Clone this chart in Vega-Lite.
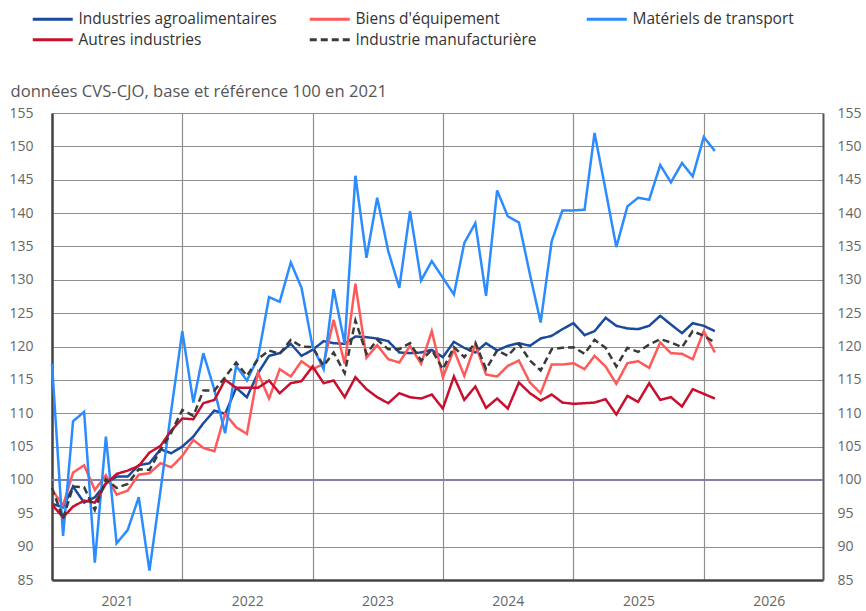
{
  "$schema": "https://vega.github.io/schema/vega-lite/v6.json",
  "width": 771,
  "height": 467,
  "autosize": {"type": "none"},
  "padding": {"left": 52, "top": 113, "right": 43, "bottom": 31},
  "background": "white",
  "config": {"view": {"stroke": null}, "font": "Open Sans"},
  "data": {
    "format": {"parse": {"d": "utc:'%Y-%m'"}},
    "values": [
      {"d":"2021-01","s":"A","v":96.4},{"d":"2021-02","s":"A","v":95.9},{"d":"2021-03","s":"A","v":99.0},{"d":"2021-04","s":"A","v":96.6},{"d":"2021-05","s":"A","v":97.4},{"d":"2021-06","s":"A","v":99.5},{"d":"2021-07","s":"A","v":100.5},{"d":"2021-08","s":"A","v":100.5},{"d":"2021-09","s":"A","v":102.2},{"d":"2021-10","s":"A","v":102.5},{"d":"2021-11","s":"A","v":104.6},{"d":"2021-12","s":"A","v":104.0},
      {"d":"2022-01","s":"A","v":105.0},{"d":"2022-02","s":"A","v":106.5},{"d":"2022-03","s":"A","v":108.5},{"d":"2022-04","s":"A","v":110.4},{"d":"2022-05","s":"A","v":109.9},{"d":"2022-06","s":"A","v":113.8},{"d":"2022-07","s":"A","v":112.4},{"d":"2022-08","s":"A","v":116.0},{"d":"2022-09","s":"A","v":118.6},{"d":"2022-10","s":"A","v":119.0},{"d":"2022-11","s":"A","v":120.4},{"d":"2022-12","s":"A","v":118.6},
      {"d":"2023-01","s":"A","v":119.5},{"d":"2023-02","s":"A","v":120.8},{"d":"2023-03","s":"A","v":120.5},{"d":"2023-04","s":"A","v":120.4},{"d":"2023-05","s":"A","v":121.5},{"d":"2023-06","s":"A","v":121.4},{"d":"2023-07","s":"A","v":121.2},{"d":"2023-08","s":"A","v":120.8},{"d":"2023-09","s":"A","v":119.1},{"d":"2023-10","s":"A","v":119.0},{"d":"2023-11","s":"A","v":119.1},{"d":"2023-12","s":"A","v":119.5},
      {"d":"2024-01","s":"A","v":118.4},{"d":"2024-02","s":"A","v":120.7},{"d":"2024-03","s":"A","v":119.8},{"d":"2024-04","s":"A","v":119.1},{"d":"2024-05","s":"A","v":120.5},{"d":"2024-06","s":"A","v":119.4},{"d":"2024-07","s":"A","v":120.1},{"d":"2024-08","s":"A","v":120.5},{"d":"2024-09","s":"A","v":120.1},{"d":"2024-10","s":"A","v":121.2},{"d":"2024-11","s":"A","v":121.6},{"d":"2024-12","s":"A","v":122.6},
      {"d":"2025-01","s":"A","v":123.5},{"d":"2025-02","s":"A","v":121.7},{"d":"2025-03","s":"A","v":122.3},{"d":"2025-04","s":"A","v":124.3},{"d":"2025-05","s":"A","v":123.1},{"d":"2025-06","s":"A","v":122.7},{"d":"2025-07","s":"A","v":122.6},{"d":"2025-08","s":"A","v":123.1},{"d":"2025-09","s":"A","v":124.6},{"d":"2025-10","s":"A","v":123.3},{"d":"2025-11","s":"A","v":122.0},{"d":"2025-12","s":"A","v":123.5},
      {"d":"2026-01","s":"A","v":123.1},{"d":"2026-02","s":"A","v":122.3},

      {"d":"2021-01","s":"B","v":98.5},{"d":"2021-02","s":"B","v":96.2},{"d":"2021-03","s":"B","v":101.1},{"d":"2021-04","s":"B","v":102.2},{"d":"2021-05","s":"B","v":98.5},{"d":"2021-06","s":"B","v":100.7},{"d":"2021-07","s":"B","v":97.8},{"d":"2021-08","s":"B","v":98.4},{"d":"2021-09","s":"B","v":100.8},{"d":"2021-10","s":"B","v":101.0},{"d":"2021-11","s":"B","v":102.5},{"d":"2021-12","s":"B","v":101.9},
      {"d":"2022-01","s":"B","v":103.6},{"d":"2022-02","s":"B","v":106.0},{"d":"2022-03","s":"B","v":104.8},{"d":"2022-04","s":"B","v":104.3},{"d":"2022-05","s":"B","v":109.9},{"d":"2022-06","s":"B","v":107.9},{"d":"2022-07","s":"B","v":106.9},{"d":"2022-08","s":"B","v":116.1},{"d":"2022-09","s":"B","v":112.2},{"d":"2022-10","s":"B","v":116.6},{"d":"2022-11","s":"B","v":115.5},{"d":"2022-12","s":"B","v":117.8},
      {"d":"2023-01","s":"B","v":116.6},{"d":"2023-02","s":"B","v":117.4},{"d":"2023-03","s":"B","v":124.0},{"d":"2023-04","s":"B","v":117.4},{"d":"2023-05","s":"B","v":129.4},{"d":"2023-06","s":"B","v":118.3},{"d":"2023-07","s":"B","v":120.2},{"d":"2023-08","s":"B","v":118.1},{"d":"2023-09","s":"B","v":117.6},{"d":"2023-10","s":"B","v":120.1},{"d":"2023-11","s":"B","v":117.4},{"d":"2023-12","s":"B","v":122.3},
      {"d":"2024-01","s":"B","v":115.4},{"d":"2024-02","s":"B","v":119.5},{"d":"2024-03","s":"B","v":115.6},{"d":"2024-04","s":"B","v":120.3},{"d":"2024-05","s":"B","v":115.8},{"d":"2024-06","s":"B","v":115.5},{"d":"2024-07","s":"B","v":117.1},{"d":"2024-08","s":"B","v":117.9},{"d":"2024-09","s":"B","v":114.6},{"d":"2024-10","s":"B","v":113.0},{"d":"2024-11","s":"B","v":117.3},{"d":"2024-12","s":"B","v":117.3},
      {"d":"2025-01","s":"B","v":117.5},{"d":"2025-02","s":"B","v":116.6},{"d":"2025-03","s":"B","v":118.6},{"d":"2025-04","s":"B","v":117.0},{"d":"2025-05","s":"B","v":114.4},{"d":"2025-06","s":"B","v":117.5},{"d":"2025-07","s":"B","v":117.8},{"d":"2025-08","s":"B","v":116.8},{"d":"2025-09","s":"B","v":120.6},{"d":"2025-10","s":"B","v":119.0},{"d":"2025-11","s":"B","v":118.9},{"d":"2025-12","s":"B","v":118.1},
      {"d":"2026-01","s":"B","v":122.3},{"d":"2026-02","s":"B","v":119.1},

      {"d":"2021-01","s":"T","v":117.4},{"d":"2021-02","s":"T","v":91.6},{"d":"2021-03","s":"T","v":108.8},{"d":"2021-04","s":"T","v":110.2},{"d":"2021-05","s":"T","v":87.6},{"d":"2021-06","s":"T","v":106.5},{"d":"2021-07","s":"T","v":90.5},{"d":"2021-08","s":"T","v":92.5},{"d":"2021-09","s":"T","v":97.4},{"d":"2021-10","s":"T","v":86.4},{"d":"2021-11","s":"T","v":98.4},{"d":"2021-12","s":"T","v":110.4},
      {"d":"2022-01","s":"T","v":122.3},{"d":"2022-02","s":"T","v":111.6},{"d":"2022-03","s":"T","v":119.0},{"d":"2022-04","s":"T","v":113.5},{"d":"2022-05","s":"T","v":107.0},{"d":"2022-06","s":"T","v":117.1},{"d":"2022-07","s":"T","v":114.9},{"d":"2022-08","s":"T","v":118.3},{"d":"2022-09","s":"T","v":127.4},{"d":"2022-10","s":"T","v":126.7},{"d":"2022-11","s":"T","v":132.6},{"d":"2022-12","s":"T","v":128.8},
      {"d":"2023-01","s":"T","v":120.0},{"d":"2023-02","s":"T","v":116.6},{"d":"2023-03","s":"T","v":128.6},{"d":"2023-04","s":"T","v":120.4},{"d":"2023-05","s":"T","v":145.6},{"d":"2023-06","s":"T","v":133.3},{"d":"2023-07","s":"T","v":142.3},{"d":"2023-08","s":"T","v":134.3},{"d":"2023-09","s":"T","v":128.8},{"d":"2023-10","s":"T","v":140.3},{"d":"2023-11","s":"T","v":129.9},{"d":"2023-12","s":"T","v":132.8},
      {"d":"2024-01","s":"T","v":130.3},{"d":"2024-02","s":"T","v":127.8},{"d":"2024-03","s":"T","v":135.5},{"d":"2024-04","s":"T","v":138.5},{"d":"2024-05","s":"T","v":127.6},{"d":"2024-06","s":"T","v":143.4},{"d":"2024-07","s":"T","v":139.5},{"d":"2024-08","s":"T","v":138.6},{"d":"2024-09","s":"T","v":130.8},{"d":"2024-10","s":"T","v":123.6},{"d":"2024-11","s":"T","v":135.8},{"d":"2024-12","s":"T","v":140.4},
      {"d":"2025-01","s":"T","v":140.4},{"d":"2025-02","s":"T","v":140.5},{"d":"2025-03","s":"T","v":152.0},{"d":"2025-04","s":"T","v":143.4},{"d":"2025-05","s":"T","v":134.9},{"d":"2025-06","s":"T","v":141.0},{"d":"2025-07","s":"T","v":142.3},{"d":"2025-08","s":"T","v":142.0},{"d":"2025-09","s":"T","v":147.2},{"d":"2025-10","s":"T","v":144.6},{"d":"2025-11","s":"T","v":147.5},{"d":"2025-12","s":"T","v":145.5},
      {"d":"2026-01","s":"T","v":151.4},{"d":"2026-02","s":"T","v":149.3},

      {"d":"2021-01","s":"O","v":96.3},{"d":"2021-02","s":"O","v":94.4},{"d":"2021-03","s":"O","v":96.0},{"d":"2021-04","s":"O","v":96.9},{"d":"2021-05","s":"O","v":96.6},{"d":"2021-06","s":"O","v":99.4},{"d":"2021-07","s":"O","v":100.9},{"d":"2021-08","s":"O","v":101.4},{"d":"2021-09","s":"O","v":102.1},{"d":"2021-10","s":"O","v":104.1},{"d":"2021-11","s":"O","v":105.1},{"d":"2021-12","s":"O","v":107.4},
      {"d":"2022-01","s":"O","v":109.2},{"d":"2022-02","s":"O","v":109.1},{"d":"2022-03","s":"O","v":111.5},{"d":"2022-04","s":"O","v":112.0},{"d":"2022-05","s":"O","v":115.0},{"d":"2022-06","s":"O","v":113.8},{"d":"2022-07","s":"O","v":113.8},{"d":"2022-08","s":"O","v":113.8},{"d":"2022-09","s":"O","v":114.9},{"d":"2022-10","s":"O","v":113.0},{"d":"2022-11","s":"O","v":114.5},{"d":"2022-12","s":"O","v":114.8},
      {"d":"2023-01","s":"O","v":117.0},{"d":"2023-02","s":"O","v":114.5},{"d":"2023-03","s":"O","v":114.9},{"d":"2023-04","s":"O","v":112.4},{"d":"2023-05","s":"O","v":115.4},{"d":"2023-06","s":"O","v":113.6},{"d":"2023-07","s":"O","v":112.4},{"d":"2023-08","s":"O","v":111.5},{"d":"2023-09","s":"O","v":113.0},{"d":"2023-10","s":"O","v":112.4},{"d":"2023-11","s":"O","v":112.2},{"d":"2023-12","s":"O","v":112.8},
      {"d":"2024-01","s":"O","v":110.7},{"d":"2024-02","s":"O","v":115.5},{"d":"2024-03","s":"O","v":112.0},{"d":"2024-04","s":"O","v":114.0},{"d":"2024-05","s":"O","v":110.8},{"d":"2024-06","s":"O","v":112.2},{"d":"2024-07","s":"O","v":110.7},{"d":"2024-08","s":"O","v":114.6},{"d":"2024-09","s":"O","v":113.0},{"d":"2024-10","s":"O","v":111.9},{"d":"2024-11","s":"O","v":112.8},{"d":"2024-12","s":"O","v":111.6},
      {"d":"2025-01","s":"O","v":111.4},{"d":"2025-02","s":"O","v":111.5},{"d":"2025-03","s":"O","v":111.6},{"d":"2025-04","s":"O","v":112.1},{"d":"2025-05","s":"O","v":109.8},{"d":"2025-06","s":"O","v":112.6},{"d":"2025-07","s":"O","v":111.7},{"d":"2025-08","s":"O","v":114.5},{"d":"2025-09","s":"O","v":112.0},{"d":"2025-10","s":"O","v":112.4},{"d":"2025-11","s":"O","v":111.0},{"d":"2025-12","s":"O","v":113.6},
      {"d":"2026-01","s":"O","v":112.9},{"d":"2026-02","s":"O","v":112.2},

      {"d":"2021-01","s":"M","v":98.8},{"d":"2021-02","s":"M","v":94.2},{"d":"2021-03","s":"M","v":99.0},{"d":"2021-04","s":"M","v":98.9},{"d":"2021-05","s":"M","v":95.5},{"d":"2021-06","s":"M","v":100.1},{"d":"2021-07","s":"M","v":98.8},{"d":"2021-08","s":"M","v":99.4},{"d":"2021-09","s":"M","v":101.6},{"d":"2021-10","s":"M","v":101.5},{"d":"2021-11","s":"M","v":104.5},{"d":"2021-12","s":"M","v":107.1},
      {"d":"2022-01","s":"M","v":110.5},{"d":"2022-02","s":"M","v":109.6},{"d":"2022-03","s":"M","v":113.4},{"d":"2022-04","s":"M","v":113.4},{"d":"2022-05","s":"M","v":115.4},{"d":"2022-06","s":"M","v":117.6},{"d":"2022-07","s":"M","v":115.6},{"d":"2022-08","s":"M","v":118.1},{"d":"2022-09","s":"M","v":119.4},{"d":"2022-10","s":"M","v":118.9},{"d":"2022-11","s":"M","v":121.0},{"d":"2022-12","s":"M","v":120.0},
      {"d":"2023-01","s":"M","v":119.9},{"d":"2023-02","s":"M","v":117.1},{"d":"2023-03","s":"M","v":119.1},{"d":"2023-04","s":"M","v":116.0},{"d":"2023-05","s":"M","v":123.9},{"d":"2023-06","s":"M","v":118.9},{"d":"2023-07","s":"M","v":121.0},{"d":"2023-08","s":"M","v":119.6},{"d":"2023-09","s":"M","v":119.6},{"d":"2023-10","s":"M","v":120.5},{"d":"2023-11","s":"M","v":117.9},{"d":"2023-12","s":"M","v":119.5},
      {"d":"2024-01","s":"M","v":116.6},{"d":"2024-02","s":"M","v":119.9},{"d":"2024-03","s":"M","v":118.4},{"d":"2024-04","s":"M","v":120.6},{"d":"2024-05","s":"M","v":116.6},{"d":"2024-06","s":"M","v":119.4},{"d":"2024-07","s":"M","v":118.6},{"d":"2024-08","s":"M","v":120.4},{"d":"2024-09","s":"M","v":117.9},{"d":"2024-10","s":"M","v":116.4},{"d":"2024-11","s":"M","v":119.6},{"d":"2024-12","s":"M","v":119.8},
      {"d":"2025-01","s":"M","v":119.9},{"d":"2025-02","s":"M","v":118.9},{"d":"2025-03","s":"M","v":121.0},{"d":"2025-04","s":"M","v":119.8},{"d":"2025-05","s":"M","v":117.0},{"d":"2025-06","s":"M","v":119.8},{"d":"2025-07","s":"M","v":119.2},{"d":"2025-08","s":"M","v":120.3},{"d":"2025-09","s":"M","v":121.1},{"d":"2025-10","s":"M","v":120.6},{"d":"2025-11","s":"M","v":119.9},{"d":"2025-12","s":"M","v":122.3},
      {"d":"2026-01","s":"M","v":121.6},{"d":"2026-02","s":"M","v":120.6}
    ]
  },
  "resolve": {"axis": {"y": "independent"}},
  "layer": [
    {
      "mark": {"type": "rule", "color": "#8080a8", "strokeWidth": 1.5},
      "encoding": {
        "y": {"datum": 100, "type": "quantitative",
          "scale": {"domain": [85, 155], "nice": false, "zero": false},
          "axis": {"orient": "right", "values": [85,90,95,100,105,110,115,120,125,130,135,140,145,150,155], "grid": false, "ticks": false, "domain": true, "domainColor": "#555555", "domainWidth": 2, "labelPadding": 14, "labelFontSize": 14, "labelColor": "#666666", "labelFont": "Open Sans", "title": null}}
      }
    },
    {
      "mark": {"type": "line", "strokeWidth": 2.5},
      "encoding": {
        "x": {"field": "d", "type": "temporal",
          "scale": {"type": "utc", "domain": [{"year": 2021, "month": 1, "date": 1, "utc": true}, {"year": 2026, "month": 12, "date": 1, "utc": true}]},
          "axis": {"values": [{"year": 2021, "month": 1, "date": 1, "utc": true}, {"year": 2022, "month": 1, "date": 1, "utc": true}, {"year": 2023, "month": 1, "date": 1, "utc": true}, {"year": 2024, "month": 1, "date": 1, "utc": true}, {"year": 2025, "month": 1, "date": 1, "utc": true}, {"year": 2026, "month": 1, "date": 1, "utc": true}],
            "format": "%Y", "labelOffset": 65, "ticks": false, "grid": true, "gridColor": "#8f8f8f", "gridWidth": 1.2, "domain": true, "domainColor": "#444444", "domainWidth": 2.5, "labelPadding": 14, "labelFontSize": 14, "labelColor": "#666666", "labelFont": "Open Sans", "labelFlush": false, "labelOverlap": false, "title": null}},
        "y": {"field": "v", "type": "quantitative",
          "scale": {"domain": [85, 155], "nice": false, "zero": false},
          "axis": {"orient": "left", "values": [85,90,95,100,105,110,115,120,125,130,135,140,145,150,155], "grid": true, "gridColor": "#8f8f8f", "gridWidth": 1.2, "ticks": false, "domain": true, "domainColor": "#444444", "domainWidth": 2.5, "labelPadding": 19, "labelFontSize": 14, "labelColor": "#666666", "labelFont": "Open Sans",
            "title": "données CVS-CJO, base et référence 100 en 2021", "titleAngle": 0, "titleAlign": "left", "titleBaseline": "alphabetic", "titleX": -42, "titleY": -17, "titleFontSize": 16.6, "titleFont": "Open Sans", "titleColor": "#555555", "titleFontWeight": "normal"}},
        "color": {"field": "s", "type": "nominal",
          "scale": {"domain": ["A", "B", "T", "O", "M"], "range": ["#1a4a9c", "#ff5a5a", "#2b8cff", "#c8102e", "#3a3a3a"]},
          "legend": {"orient": "none", "direction": "horizontal", "legendX": -22, "legendY": -102, "columns": 3, "columnPadding": 26, "rowPadding": 4, "gridAlign": "all", "title": null,
            "symbolType": "M-4,0L4,0", "symbolSize": 100, "symbolOffset": 15, "symbolStrokeWidth": 3, "labelOffset": 18,
            "labelFontSize": 15.5, "labelFont": "Open Sans", "labelColor": "#333333", "labelLimit": 400,
            "labelExpr": "datum.label == 'A' ? 'Industries agroalimentaires' : datum.label == 'B' ? \"Biens d'équipement\" : datum.label == 'T' ? 'Matériels de transport' : datum.label == 'O' ? 'Autres industries' : 'Industrie manufacturière'"}},
        "strokeDash": {"field": "s", "type": "nominal",
          "scale": {"domain": ["A", "B", "T", "O", "M"], "range": [[1, 0], [1, 0], [1, 0], [1, 0], [7, 4]]},
          "legend": {"orient": "none", "direction": "horizontal", "legendX": -22, "legendY": -102, "columns": 3, "columnPadding": 26, "rowPadding": 4, "gridAlign": "all", "title": null,
            "symbolType": "M-4,0L4,0", "symbolSize": 100, "symbolOffset": 15, "symbolStrokeWidth": 3, "labelOffset": 18,
            "labelFontSize": 15.5, "labelFont": "Open Sans", "labelColor": "#333333", "labelLimit": 400,
            "labelExpr": "datum.label == 'A' ? 'Industries agroalimentaires' : datum.label == 'B' ? \"Biens d'équipement\" : datum.label == 'T' ? 'Matériels de transport' : datum.label == 'O' ? 'Autres industries' : 'Industrie manufacturière'"}}
      }
    }
  ]
}
